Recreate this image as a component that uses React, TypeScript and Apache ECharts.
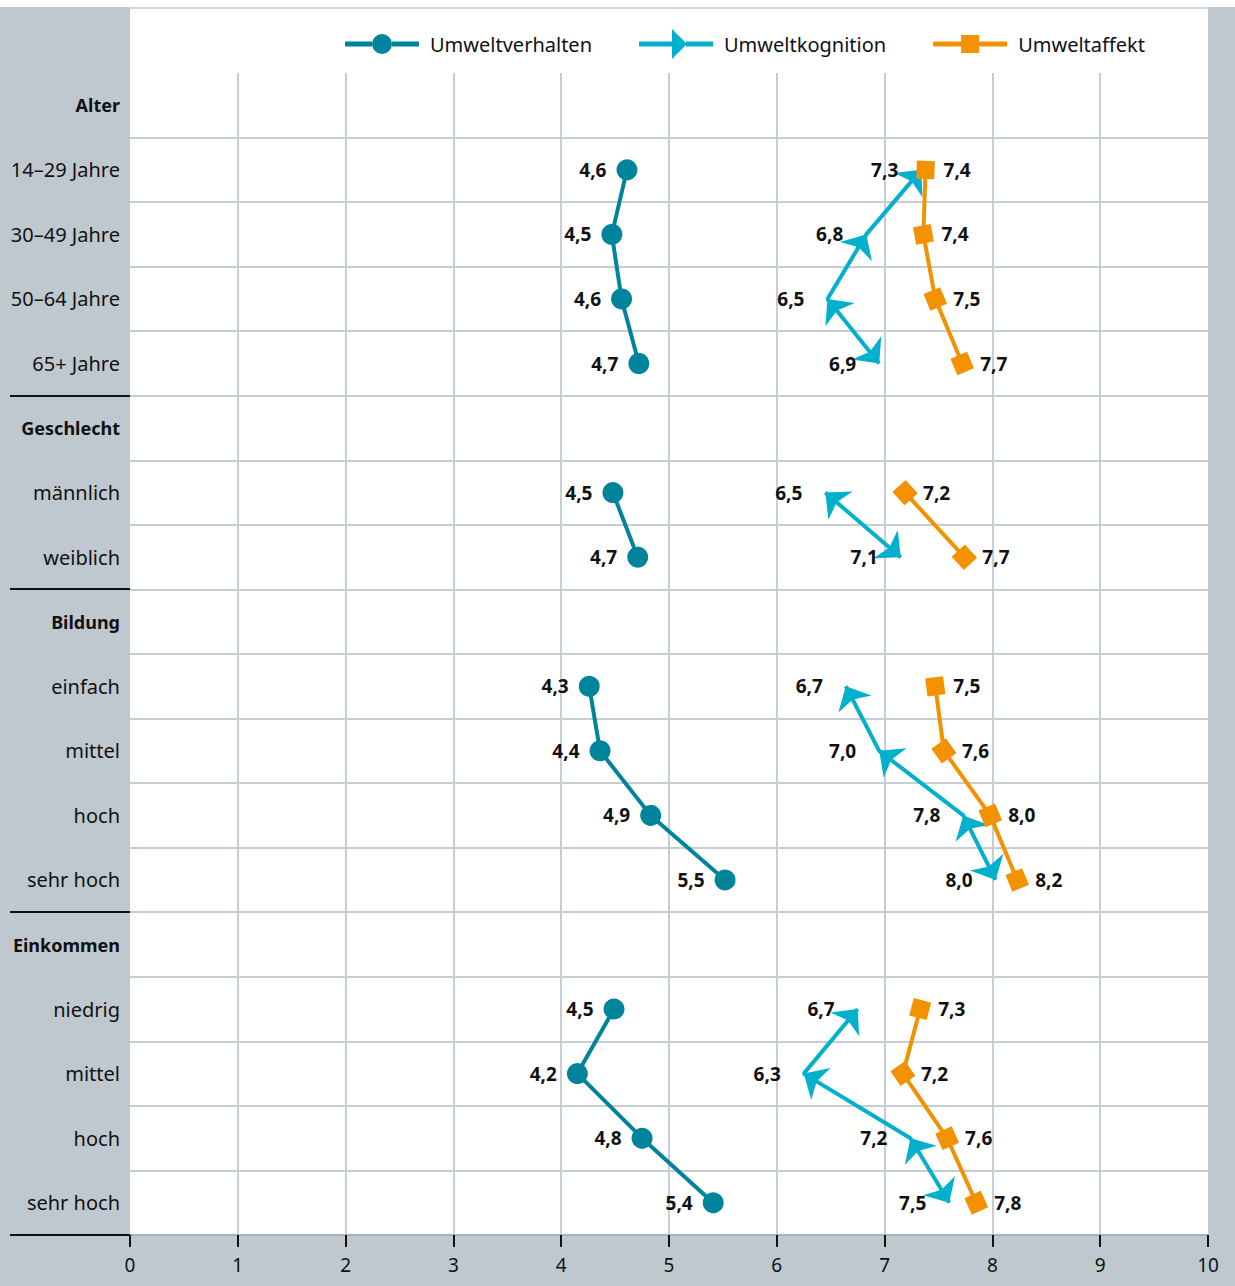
import React, { useEffect, useRef } from "react";
import * as echarts from "echarts";

const categories = [
  "Alter", "14–29 Jahre", "30–49 Jahre", "50–64 Jahre", "65+ Jahre",
  "Geschlecht", "männlich", "weiblich",
  "Bildung", "einfach", "mittel", "hoch", "sehr hoch",
  "Einkommen", "niedrig", "mittel", "hoch", "sehr hoch",
];
const headerRows = [0, 5, 8, 13];
const groupEnds = [5, 8, 13, 18];
const seriesNames = ["Umweltverhalten", "Umweltkognition", "Umweltaffekt"];

const verhalten = [null, 4.61, 4.47, 4.56, 4.72, null, 4.48, 4.71, null, 4.26, 4.36, 4.83, 5.52, null, 4.49, 4.15, 4.75, 5.41];
const verhaltenLabels = ["", "4,6", "4,5", "4,6", "4,7", "", "4,5", "4,7", "", "4,3", "4,4", "4,9", "5,5", "", "4,5", "4,2", "4,8", "5,4"];

const kognition = [null, 7.34, 6.83, 6.47, 6.95, null, 6.45, 7.15, null, 6.64, 6.95, 7.73, 8.03, null, 6.75, 6.25, 7.24, 7.6];
const kognitionLabels = ["", "7,3", "6,8", "6,5", "6,9", "", "6,5", "7,1", "", "6,7", "7,0", "7,8", "8,0", "", "6,7", "6,3", "7,2", "7,5"];

const affekt = [null, 7.38, 7.36, 7.47, 7.72, null, 7.19, 7.74, null, 7.47, 7.55, 7.98, 8.23, null, 7.33, 7.17, 7.58, 7.85];
const affektLabels = ["", "7,4", "7,4", "7,5", "7,7", "", "7,2", "7,7", "", "7,5", "7,6", "8,0", "8,2", "", "7,3", "7,2", "7,6", "7,8"];

const FONT = "'Noto Sans', sans-serif";
const C_VERH = "#00849b";
const C_KOG = "#00b0cc";
const C_AFF = "#f39200";
const GRAY_BG = "#bfc8cf";
const GRID_LINE = "#c6cdd3";

// legend icons (line + marker), 74 x 30 box
const ICON_VERH = "path://M0,12.5 L27,12.5 L27,17.5 L0,17.5 Z M47,12.5 L74,12.5 L74,17.5 L47,17.5 Z M27,15 A10,10 0 1,1 47,15 A10,10 0 1,1 27,15 Z M0,0 L0.01,0 L0.01,0.01 Z M0,30 L0.01,30 L0.01,29.99 Z";
const ICON_KOG = "path://M0,12.5 L33,12.5 L33,17.5 L0,17.5 Z M47,12.5 L74,12.5 L74,17.5 L47,17.5 Z M33,0 L48,15 L33,30 Z";
const ICON_AFF = "path://M0,12.5 L28,12.5 L28,17.5 L0,17.5 Z M46,12.5 L74,12.5 L74,17.5 L46,17.5 Z M28,6 L46,6 L46,24 L28,24 Z M0,0 L0.01,0 L0.01,0.01 Z M0,30 L0.01,30 L0.01,29.99 Z";

type Rot = (number | null)[];

function computeRot(chart: any, vals: (number | null)[]): Rot {
  const pts = vals.map((v, i) => (v == null ? null : chart.convertToPixel({ xAxisIndex: 0, yAxisIndex: 0 }, [v, i])));
  return pts.map((p, i) => {
    if (!p) return null;
    let q: any = pts[i + 1];
    let dx = 0, dy = 0;
    if (q) { dx = p[0] - q[0]; dy = p[1] - q[1]; }
    else if (pts[i - 1]) { q = pts[i - 1]; dx = p[0] - q[0]; dy = p[1] - q[1]; }
    else return 0;
    const theta = (Math.atan2(-dy, dx) * 180) / Math.PI;
    return theta - 90;
  });
}

function toData(vals: (number | null)[], rot: Rot | null, baseRot: number) {
  return vals.map((v, i) =>
    v == null ? "-" : { value: [v, i], symbolRotate: rot ? (rot[i] as number) : baseRot }
  );
}

function lineSeries(name: string, vals: (number | null)[], color: string, symbol: string,
  size: any, rot: Rot | null, z: number) {
  return {
    type: "line",
    name,
    xAxisIndex: 0,
    yAxisIndex: 0,
    z,
    symbol,
    symbolSize: size,
    showAllSymbol: true,
    connectNulls: false,
    lineStyle: { color, width: 4 },
    itemStyle: { color },
    emphasis: { disabled: true },
    label: { show: false },
    data: toData(vals, rot, 0),
  };
}

function labelSeries(id: string, vals: (number | null)[], labels: string[], size: number, pos: string, dist: number) {
  return {
    type: "scatter",
    name: id,
    xAxisIndex: 0,
    yAxisIndex: 0,
    z: 10,
    symbol: "circle",
    symbolSize: size,
    itemStyle: { color: "rgba(0,0,0,0)" },
    emphasis: { disabled: true },
    silent: true,
    label: {
      show: true,
      position: pos,
      distance: dist,
      fontFamily: FONT,
      fontWeight: "bold",
      fontSize: 19,
      color: "#111",
      opacity: 1,
      formatter: (p: any) => labels[p.dataIndex],
    },
    data: vals.map((v, i) => (v == null ? "-" : [v, i])),
  };
}

export default function App() {
  const ref = useRef<HTMLDivElement>(null);
  useEffect(() => {
    document.body.style.margin = "0";
    const chart = echarts.init(ref.current!, null, { renderer: "svg" });

    const buildSeries = (r1: Rot | null, r2: Rot | null, r3: Rot | null) => [
      lineSeries(seriesNames[0], verhalten, C_VERH, "circle", 21, r1, 3),
      lineSeries(seriesNames[1], kognition, C_KOG, "arrow", [28, 20], r2, 4),
      lineSeries(seriesNames[2], affekt, C_AFF, "rect", 18, r3, 5),
      labelSeries("lbl-verhalten", verhalten, verhaltenLabels, 21, "left", 10),
      labelSeries("lbl-kognition", kognition, kognitionLabels, 22, "left", 12),
      labelSeries("lbl-affekt", affekt, affektLabels, 18, "right", 9),
    ];

    const option: any = {
      animation: false,
      backgroundColor: GRAY_BG,
      textStyle: { fontFamily: FONT },
      grid: { left: 130, right: 27, top: 73, bottom: 51, outerBoundsMode: "none", containLabel: false },
      legend: {
        left: 345,
        top: 29,
        padding: 0,
        itemWidth: 74,
        itemHeight: 30,
        itemGap: 47,
        symbolKeepAspect: true,
        data: [
          { name: seriesNames[0], icon: ICON_VERH },
          { name: seriesNames[1], icon: ICON_KOG },
          { name: seriesNames[2], icon: ICON_AFF },
        ],
        textStyle: { fontFamily: FONT, fontSize: 20, color: "#111", padding: [0, 0, 0, 6] },
      },
      xAxis: {
        type: "value",
        min: 0,
        max: 10,
        interval: 1,
        position: "bottom",
        axisLine: { show: true, onZero: false, lineStyle: { color: "#a9b1b8", width: 2 } },
        axisTick: { show: true, length: 12, lineStyle: { color: "#111", width: 2 } },
        axisLabel: { fontFamily: FONT, fontSize: 19, color: "#111", margin: 20 },
        splitLine: { show: true, showMinLine: false, showMaxLine: false, lineStyle: { color: GRID_LINE, width: 2 } },
      },
      yAxis: [
        {
          type: "category",
          inverse: true,
          data: categories,
          axisLine: { show: false },
          axisTick: { show: false },
          splitLine: { show: false },
          axisLabel: {
            margin: 10,
            formatter: (v: string, i: number) => (headerRows.includes(i) ? `{b|${v}}` : `{n|${v}}`),
            rich: {
              b: { fontFamily: FONT, fontWeight: "bold", fontSize: 18, color: "#111" },
              n: { fontFamily: FONT, fontSize: 20, color: "#111" },
            },
          },
        },
        {
          type: "value",
          inverse: true,
          min: 0,
          max: 18,
          interval: 1,
          axisLine: { show: false, onZero: false },
          axisTick: { show: false },
          axisLabel: { show: false },
          splitLine: { show: true, showMinLine: false, showMaxLine: false, lineStyle: { color: GRID_LINE, width: 2 } },
        },
      ],
      graphic: [],
      series: buildSeries(null, null, null),
    };
    chart.setOption(option);

    const r1 = computeRot(chart, verhalten);
    const r2 = computeRot(chart, kognition);
    const r3 = computeRot(chart, affekt);

    const graphics: any[] = [
      { type: "rect", z: -100, silent: true, shape: { x: 0, y: 0, width: 1235, height: 7 }, style: { fill: "#fff" } },
      { type: "rect", z: -100, silent: true, shape: { x: 130, y: 7, width: 1078, height: 1228 }, style: { fill: "#fff" } },
      { type: "line", z: -90, silent: true, shape: { x1: 130, y1: 8, x2: 1208, y2: 8 }, style: { stroke: "#d2d7db", lineWidth: 2 } },
    ];
    groupEnds.forEach((g) => {
      const y = Math.round(chart.convertToPixel({ yAxisIndex: 1 }, g) as number);
      graphics.push({ type: "line", z: 50, silent: true, shape: { x1: 10, y1: y, x2: 130, y2: y }, style: { stroke: "#111", lineWidth: 2 } });
    });

    chart.setOption({ graphic: graphics, series: buildSeries(r1, r2, r3) });
    return () => chart.dispose();
  }, []);
  return <div ref={ref} style={{ width: 1235, height: 1286 }} />;
}
